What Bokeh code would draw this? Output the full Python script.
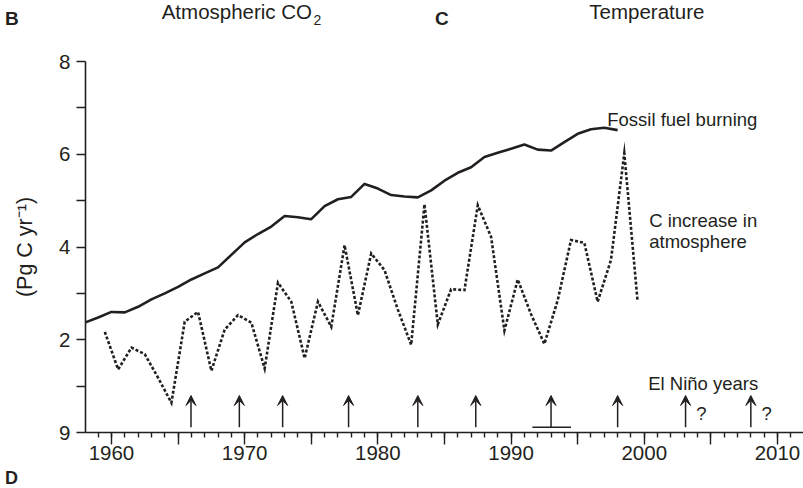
from bokeh.plotting import figure
from bokeh.layouts import column
from bokeh.models import (Range1d, FixedTicker, Label, Arrow, VeeHead,
                          ColumnDataSource, Div)
from bokeh.embed import file_html
from bokeh.resources import INLINE

# ---------------- data ----------------
FOSSIL_YEARS = list(range(1958, 1999))
FOSSIL = [2.37, 2.48, 2.60, 2.59, 2.71, 2.87, 3.00, 3.14, 3.30, 3.43,
          3.56, 3.83, 4.10, 4.28, 4.44, 4.67, 4.64, 4.60, 4.88, 5.03,
          5.08, 5.36, 5.26, 5.12, 5.09, 5.07, 5.22, 5.43, 5.60, 5.72,
          5.94, 6.03, 6.12, 6.21, 6.10, 6.08, 6.26, 6.44, 6.54, 6.57,
          6.52]

ATMOS_YEARS = [y + 0.5 for y in range(1959, 2000)]
ATMOS = [2.17, 1.36, 1.83, 1.69, 1.18, 0.64, 2.39, 2.60, 1.33, 2.22,
         2.53, 2.37, 1.38, 3.23, 2.82, 1.60, 2.82, 2.28, 4.04, 2.53,
         3.86, 3.50, 2.65, 1.89, 4.92, 2.33, 3.09, 3.07, 4.90, 4.22,
         2.20, 3.30, 2.55, 1.91, 2.85, 4.15, 4.09, 2.82, 3.72, 6.02,
         2.82]

ELNINO_YEARS = [1965.97, 1969.6, 1972.85, 1977.8, 1983.0, 1987.35,
                1993.0, 1998.0, 2003.1, 2008.0]
ELNINO_UNCERTAIN = [False, False, False, False, False, False,
                    False, False, True, True]
ELNINO_SPAN = [1991.6, 1994.5]

X_TICKS = [1960, 1965, 1970, 1975, 1980, 1985, 1990, 1995, 2000, 2005, 2010]
X_TICK_LABELS = {1960: "1960", 1970: "1970", 1980: "1980", 1990: "1990",
                 2000: "2000", 2010: "2010"}
Y_TICKS = [0, 1, 2, 3, 4, 5, 6, 7, 8]
Y_TICK_LABELS = {0: "9", 2: "2", 4: "4", 6: "6", 8: "8"}
Y_LABEL = "(Pg C yr\u207b\u00b9)"

# ---------------- styling / layout ----------------
INK = "#231f20"
FONT = "Liberation Sans"
W, H = 803, 488
HEAD_H, FOOT_H = 34, 20
MAIN_H = H - HEAD_H - FOOT_H
LEFT, TOP, BOTTOM = 85, 61, 432   # frame edges in page pixels
X0 = 1958.05
PX_PER_YEAR = 13.32
X1 = X0 + (W - LEFT) / PX_PER_YEAR
PX_PER_UNIT = (BOTTOM - TOP) / 8.0
ASC = 0.8465                       # baseline offset (em) for line-height 1


def dx(px):
    return X0 + (px - LEFT) / PX_PER_YEAR


def dy(py):
    return (BOTTOM - py) / PX_PER_UNIT


def span(text, left, baseline, size, bold=False):
    top = baseline - ASC * size
    weight = "bold" if bold else "normal"
    return (f'<span style="position:absolute;left:{left}px;top:{top:.2f}px;'
            f'font-size:{size}px;line-height:1;font-weight:{weight};'
            f'white-space:nowrap;margin:0;padding:0;">{text}</span>')


def box(height, inner):
    return (f'<div style="position:relative;width:{W}px;height:{height}px;'
            f"margin:0;padding:0;font-family:'{FONT}',Arial,sans-serif;"
            f'color:{INK};">{inner}</div>')


# ---- header (panel letters and titles) ----
head = Div(width=W, height=HEAD_H, margin=(0, 0, 0, 0), text=box(HEAD_H, "".join([
    span("B", 5, 25, 19, bold=True),
    span("Atmospheric CO", 161.7, 19.5, 20.5),
    span("2", 313.5, 24.5, 14),
    span("C", 435, 25, 19, bold=True),
    span("Temperature", 589.3, 19.5, 20.5),
])))

# ---- footer (panel letter D) ----
foot = Div(width=W, height=FOOT_H, margin=(0, 0, 0, 0),
           text=box(FOOT_H, span("D", 5, 484 - (H - FOOT_H), 18, bold=True)))

# ---- main chart ----
p = figure(width=W, height=MAIN_H, output_backend="svg", toolbar_location=None,
           x_range=Range1d(X0, X1), y_range=Range1d(0, 8),
           min_border_left=LEFT, min_border_right=0,
           min_border_top=TOP - HEAD_H, min_border_bottom=HEAD_H + MAIN_H - BOTTOM)
p.title.text = ""
p.outline_line_color = None
p.grid.visible = False
p.background_fill_color = "white"
p.border_fill_color = "white"

xa = p.xaxis[0]
xa.ticker = FixedTicker(ticks=X_TICKS, minor_ticks=list(range(1958, 2012)))
xa.major_label_overrides = {t: X_TICK_LABELS.get(t, "") for t in X_TICKS}
xa.axis_line_color = INK
xa.axis_line_width = 1.6
xa.major_tick_line_color = INK
xa.major_tick_line_width = 1.4
xa.major_tick_in = 0
xa.major_tick_out = 12
xa.minor_tick_line_color = INK
xa.minor_tick_line_width = 1.4
xa.minor_tick_in = 0
xa.minor_tick_out = 5
xa.major_label_standoff = 1
xa.major_label_text_font = FONT
xa.major_label_text_font_size = "20.5px"
xa.major_label_text_color = INK

ya = p.yaxis[0]
ya.ticker = FixedTicker(ticks=Y_TICKS)
ya.major_label_overrides = {t: Y_TICK_LABELS.get(t, "") for t in Y_TICKS}
ya.axis_line_color = INK
ya.axis_line_width = 1.6
ya.major_tick_line_color = INK
ya.major_tick_line_width = 1.4
ya.major_tick_in = 0
ya.major_tick_out = 9
ya.minor_tick_line_color = None
ya.major_label_standoff = 6
ya.major_label_text_font = FONT
ya.major_label_text_font_size = "20.5px"
ya.major_label_text_color = INK
ya.axis_label = Y_LABEL
ya.axis_label_text_font = FONT
ya.axis_label_text_font_size = "21.5px"
ya.axis_label_text_font_style = "normal"
ya.axis_label_text_color = INK
ya.axis_label_standoff = 19

# series
p.line(FOSSIL_YEARS, FOSSIL, line_color=INK, line_width=2.6, line_join="round")
p.line(ATMOS_YEARS, ATMOS, line_color=INK, line_width=2.6, line_dash="3 2",
       line_cap="butt", line_join="miter")

# El Nino arrows
ARROW_BASE, ARROW_TIP = dy(426.7), dy(395)
src = ColumnDataSource(dict(x=ELNINO_YEARS, y0=[ARROW_BASE] * len(ELNINO_YEARS),
                            y1=[ARROW_TIP] * len(ELNINO_YEARS)))
p.add_layout(Arrow(end=VeeHead(size=10, fill_color=INK, line_color=INK, line_width=1),
                   x_start="x", y_start="y0", x_end="x", y_end="y1", source=src,
                   line_color=INK, line_width=1.5))
p.segment(x0=[ELNINO_SPAN[0]], y0=[ARROW_BASE], x1=[ELNINO_SPAN[1]], y1=[ARROW_BASE],
          line_color=INK, line_width=1.5)


def lab(text, px, py, size):
    p.add_layout(Label(x=dx(px), y=dy(py), text=text, text_font=FONT,
                       text_font_size=f"{size}px", text_color=INK,
                       text_align="left", text_baseline="alphabetic"))


for yr, unsure in zip(ELNINO_YEARS, ELNINO_UNCERTAIN):
    if unsure:
        p.add_layout(Label(x=yr + 0.8, y=dy(413), text="?", text_font=FONT,
                           text_font_size="18.5px", text_color=INK,
                           text_baseline="alphabetic"))

lab("Fossil fuel burning", 606.7, 119.3, 18.5)
lab("C increase in", 648.7, 220, 18.5)
lab("atmosphere", 648.7, 240.7, 18.5)
lab("El Niño years", 647.7, 383.3, 18.5)

layout = column(head, p, foot, spacing=0)
open("out.html", "w").write(file_html(layout, INLINE))
